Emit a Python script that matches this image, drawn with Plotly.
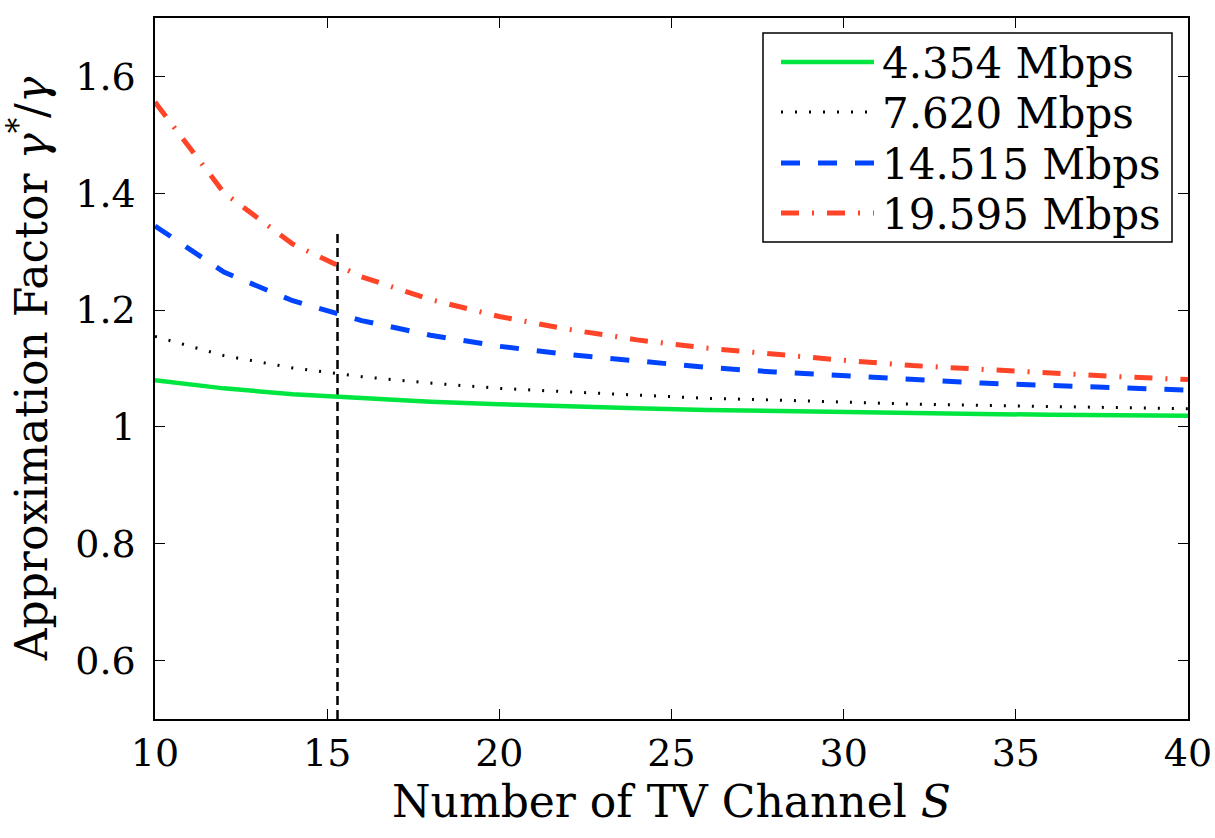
import plotly.graph_objects as go

S = [10, 12, 14, 16, 18, 20, 22, 24, 26, 28, 30, 32, 34, 36, 38, 40]
rate_4354 = [1.080, 1.066, 1.056, 1.049, 1.043, 1.039, 1.035, 1.032, 1.029, 1.027, 1.025, 1.024, 1.022, 1.021, 1.020, 1.019]
rate_7620 = [1.155, 1.122, 1.101, 1.086, 1.075, 1.066, 1.060, 1.054, 1.049, 1.046, 1.042, 1.039, 1.037, 1.035, 1.033, 1.031]
rate_14515 = [1.344, 1.265, 1.216, 1.182, 1.157, 1.138, 1.124, 1.112, 1.102, 1.094, 1.087, 1.081, 1.075, 1.071, 1.067, 1.063]
rate_19595 = [1.556, 1.401, 1.313, 1.257, 1.218, 1.189, 1.167, 1.149, 1.135, 1.124, 1.114, 1.105, 1.098, 1.092, 1.086, 1.081]
series_names = ["4.354 Mbps", "7.620 Mbps", "14.515 Mbps", "19.595 Mbps"]
marker_x = [15.3, 15.3]
marker_y = [0.5, 1.335]

x_ticks = [10, 15, 20, 25, 30, 35, 40]
y_ticks = [0.6, 0.8, 1.0, 1.2, 1.4, 1.6]
y_ticktext = ["0.6", "0.8", "1", "1.2", "1.4", "1.6"]

FONT = "DejaVu Serif"

styles = [
    dict(color="#00E640", width=4.5),
    dict(color="black", width=3, dash="2px,12px"),
    dict(color="#0044FF", width=5, dash="19px,18px"),
    dict(color="#FF4428", width=5, dash="18px,13px,2px,13px"),
]
series = [rate_4354, rate_7620, rate_14515, rate_19595]

fig = go.Figure()
fig.add_trace(go.Scatter(x=marker_x, y=marker_y, mode="lines", showlegend=False,
                         line=dict(color="black", width=2.5, dash="9px,5px")))
for name, ys, st in zip(series_names, series, styles):
    fig.add_trace(go.Scatter(x=S, y=ys, mode="lines", name=name, showlegend=False, line=st))

# plot-area geometry in pixels (for the hand-built legend box)
L, R, T, B = 155, 1188, 18, 719
def px(x):
    return (x - L) / (R - L)
def py(y):
    return (B - y) / (B - T)

shapes = [dict(type="rect", xref="paper", yref="paper",
               x0=px(763), x1=px(1172), y0=py(242), y1=py(33),
               line=dict(color="black", width=1.5), fillcolor="white", layer="above")]
annotations = []
row_y = [62, 112, 163, 213]
for name, st, ry in zip(series_names, styles, row_y):
    shapes.append(dict(type="line", xref="paper", yref="paper",
                       x0=px(781), x1=px(874), y0=py(ry), y1=py(ry),
                       line=st, layer="above"))
    annotations.append(dict(x=px(880), y=py(ry + 1), xref="paper", yref="paper",
                            text=name, showarrow=False, xanchor="left", yanchor="middle",
                            height=50, valign="middle",
                            font=dict(family=FONT, size=42, color="black")))

axis_common = dict(showline=True, linecolor="black", linewidth=1.5, mirror="ticks",
                   ticks="inside", ticklen=10, tickwidth=1.2, tickcolor="black",
                   showgrid=False, zeroline=False, automargin=False,
                   tickfont=dict(family=FONT, size=38, color="black"))

fig.update_layout(
    width=1215, height=838,
    margin=dict(l=L, r=1215 - R, t=T, b=838 - B),
    paper_bgcolor="white", plot_bgcolor="white",
    font=dict(family=FONT, color="black"),
    showlegend=False,
    xaxis=dict(range=[10, 40], tickvals=x_ticks,
               title=dict(text="Number of TV Channel <i>S</i>", font=dict(family=FONT, size=44), standoff=12),
               **axis_common),
    yaxis=dict(range=[0.5, 1.7], tickvals=y_ticks, ticktext=y_ticktext, ticklabelstandoff=10,
               title=dict(text="Approximation Factor <i>γ</i><sup>*</sup>/<i>γ</i>", font=dict(family=FONT, size=44), standoff=22),
               **axis_common),
    shapes=shapes,
    annotations=annotations,
)

fig.write_html("out.html")
